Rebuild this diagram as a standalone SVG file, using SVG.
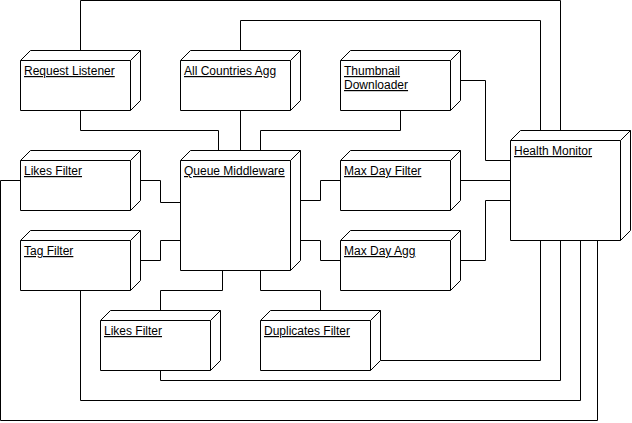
<svg xmlns="http://www.w3.org/2000/svg" width="632" height="423" viewBox="0 0 632 423">
<style>
.box{fill:#fff;stroke:#000;stroke-width:1;}
.edge{fill:none;stroke:#000;stroke-width:1;}
.lbl{font-family:"Liberation Sans",Arial,Helvetica,sans-serif;font-size:12px;fill:#000;text-decoration:underline;}
</style>
<rect x="0" y="0" width="632" height="423" fill="#fff"/>
<g id="connectors" transform="translate(0.5,0.5)">
<path class="edge" d="M80,110 V130 H218 V150"/>
<path class="edge" d="M240,110 V150"/>
<path class="edge" d="M400,110 V130 H260 V150"/>
<path class="edge" d="M460,80 H485 V160 H510"/>
<path class="edge" d="M80,50 V0 H560 V130"/>
<path class="edge" d="M240,50 V20 H540 V130"/>
<path class="edge" d="M140,180 H160 V202 H180"/>
<path class="edge" d="M140,260 H160 V240 H180"/>
<path class="edge" d="M20,180 H0 V420 H597 V240"/>
<path class="edge" d="M300,200 H320 V180 H340"/>
<path class="edge" d="M300,240 H320 V260 H340"/>
<path class="edge" d="M460,180 H510"/>
<path class="edge" d="M460,260 H485 V200 H510"/>
<path class="edge" d="M222,270 V290 H160 V310"/>
<path class="edge" d="M260,270 V290 H320 V310"/>
<path class="edge" d="M380,360 H540 V240"/>
<path class="edge" d="M160,370 V380 H560 V240"/>
<path class="edge" d="M80,290 V400 H580 V240"/>
</g>
<g id="request-listener">
<path class="box" transform="translate(0.5,0.5)" d="M20,60 L30,50 H140 V100 L130,110 H20 Z M20,60 H130 V110 M130,60 L140,50"/>
<text class="lbl" x="24" y="75">Request Listener</text>
</g>
<g id="all-countries-agg">
<path class="box" transform="translate(0.5,0.5)" d="M180,60 L190,50 H300 V100 L290,110 H180 Z M180,60 H290 V110 M290,60 L300,50"/>
<text class="lbl" x="184" y="75">All Countries Agg</text>
</g>
<g id="thumbnail-downloader">
<path class="box" transform="translate(0.5,0.5)" d="M340,60 L350,50 H460 V100 L450,110 H340 Z M340,60 H450 V110 M450,60 L460,50"/>
<text class="lbl" x="344" y="75">Thumbnail</text>
<text class="lbl" x="344" y="89">Downloader</text>
</g>
<g id="likes-filter-1">
<path class="box" transform="translate(0.5,0.5)" d="M20,160 L30,150 H140 V200 L130,210 H20 Z M20,160 H130 V210 M130,160 L140,150"/>
<text class="lbl" x="24" y="175">Likes Filter</text>
</g>
<g id="tag-filter">
<path class="box" transform="translate(0.5,0.5)" d="M20,240 L30,230 H140 V280 L130,290 H20 Z M20,240 H130 V290 M130,240 L140,230"/>
<text class="lbl" x="24" y="255">Tag Filter</text>
</g>
<g id="queue-middleware">
<path class="box" transform="translate(0.5,0.5)" d="M180,160 L190,150 H300 V260 L290,270 H180 Z M180,160 H290 V270 M290,160 L300,150"/>
<text class="lbl" x="184" y="175">Queue Middleware</text>
</g>
<g id="max-day-filter">
<path class="box" transform="translate(0.5,0.5)" d="M340,160 L350,150 H460 V200 L450,210 H340 Z M340,160 H450 V210 M450,160 L460,150"/>
<text class="lbl" x="344" y="175">Max Day Filter</text>
</g>
<g id="max-day-agg">
<path class="box" transform="translate(0.5,0.5)" d="M340,240 L350,230 H460 V280 L450,290 H340 Z M340,240 H450 V290 M450,240 L460,230"/>
<text class="lbl" x="344" y="255">Max Day Agg</text>
</g>
<g id="health-monitor">
<path class="box" transform="translate(0.5,0.5)" d="M510,140 L520,130 H630 V230 L620,240 H510 Z M510,140 H620 V240 M620,140 L630,130"/>
<text class="lbl" x="514" y="155">Health Monitor</text>
</g>
<g id="likes-filter-2">
<path class="box" transform="translate(0.5,0.5)" d="M100,320 L110,310 H220 V360 L210,370 H100 Z M100,320 H210 V370 M210,320 L220,310"/>
<text class="lbl" x="104" y="335">Likes Filter</text>
</g>
<g id="duplicates-filter">
<path class="box" transform="translate(0.5,0.5)" d="M260,320 L270,310 H380 V360 L370,370 H260 Z M260,320 H370 V370 M370,320 L380,310"/>
<text class="lbl" x="264" y="335">Duplicates Filter</text>
</g>
</svg>
